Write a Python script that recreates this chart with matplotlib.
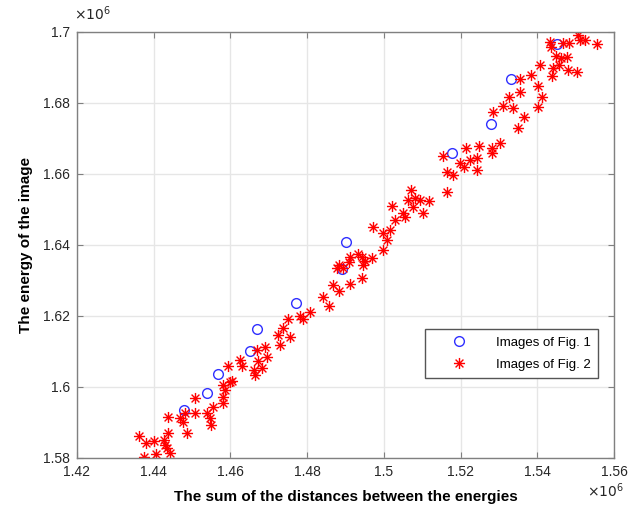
"""Energy of the image vs. sum of distances between the energies."""

import matplotlib
matplotlib.use('Agg')
import matplotlib.pyplot as plt
from matplotlib.path import Path
from matplotlib.ticker import FuncFormatter, FixedLocator

plt.rcParams['font.family'] = ['Liberation Sans', 'DejaVu Sans']

# values in units of 1e6
fig1_x = [1.4479, 1.4539, 1.4568, 1.4651, 1.4669, 1.4771, 1.4891, 1.4901,
          1.5178, 1.5280, 1.5332, 1.5452]
fig1_y = [1.5935, 1.5983, 1.6037, 1.6101, 1.6163, 1.6237, 1.6332, 1.6408,
          1.6659, 1.6741, 1.6868, 1.6966]

fig2_x = [
    1.4362, 1.4380, 1.4401, 1.4375, 1.4406, 1.4427, 1.4429, 1.4435, 1.4443,
    1.4437, 1.4437, 1.4469, 1.4476, 1.4482, 1.4508, 1.4508, 1.4487, 1.4539,
    1.4547, 1.4549, 1.4555, 1.4581, 1.4581, 1.4586, 1.4581, 1.4599,
    1.4594, 1.4604, 1.4625, 1.4630, 1.4662, 1.4664, 1.4682, 1.4672, 1.4669,
    1.4690, 1.4695, 1.4724, 1.4729, 1.4737, 1.4755, 1.4750, 1.4782, 1.4789,
    1.4808,
    1.4857, 1.4842, 1.4868, 1.4883, 1.4912, 1.4878, 1.4883, 1.4894, 1.4912,
    1.4909, 1.4933, 1.4943, 1.4946, 1.4951, 1.4943, 1.4969, 1.4998, 1.4998,
    1.5008, 1.5016, 1.4972, 1.5029, 1.5055,
    1.5021, 1.5050, 1.5063, 1.5071, 1.5076, 1.5081, 1.5094, 1.5102, 1.5118,
    1.5165, 1.5165, 1.5180, 1.5154, 1.5199, 1.5209, 1.5214, 1.5225, 1.5243,
    1.5243, 1.5248, 1.5282, 1.5282,
    1.5303, 1.5350, 1.5366, 1.5337, 1.5326, 1.5311, 1.5285, 1.5355, 1.5402,
    1.5413, 1.5402, 1.5384, 1.5355, 1.5439, 1.5407, 1.5441, 1.5457, 1.5480,
    1.5462, 1.5504, 1.5478, 1.5483, 1.5436, 1.5433, 1.5467, 1.5506, 1.5512,
    1.5525, 1.5556, 1.5449,
]
fig2_y = [
    1.5862, 1.5842, 1.5848, 1.5803, 1.5811, 1.5851, 1.5837, 1.5828, 1.5814,
    1.5870, 1.5915, 1.5913, 1.5901, 1.5927, 1.5927, 1.5969, 1.5870, 1.5927,
    1.5913, 1.5893, 1.5944, 1.5955, 1.5972, 1.5992, 1.6006, 1.6014,
    1.6059, 1.6017, 1.6076, 1.6059, 1.6048, 1.6034, 1.6054, 1.6073, 1.6104,
    1.6113, 1.6085, 1.6146, 1.6118, 1.6166, 1.6141, 1.6192, 1.6200, 1.6192,
    1.6211,
    1.6228, 1.6254, 1.6287, 1.6270, 1.6290, 1.6335, 1.6344, 1.6335, 1.6366,
    1.6352, 1.6375, 1.6366, 1.6344, 1.6355, 1.6307, 1.6363, 1.6386, 1.6434,
    1.6414, 1.6442, 1.6451, 1.6470, 1.6479,
    1.6510, 1.6490, 1.6527, 1.6555, 1.6507, 1.6532, 1.6527, 1.6490, 1.6524,
    1.6549, 1.6606, 1.6597, 1.6651, 1.6631, 1.6620, 1.6673, 1.6639, 1.6645,
    1.6611, 1.6679, 1.6673, 1.6659,
    1.6687, 1.6730, 1.6761, 1.6786, 1.6817, 1.6792, 1.6775, 1.6831, 1.6789,
    1.6817, 1.6848, 1.6879, 1.6868, 1.6876, 1.6907, 1.6899, 1.6907, 1.6893,
    1.6927, 1.6887, 1.6930, 1.6969, 1.6958, 1.6972, 1.6969, 1.6992, 1.6977,
    1.6977, 1.6966, 1.6932,
]

xticks = [1.42, 1.44, 1.46, 1.48, 1.50, 1.52, 1.54, 1.56]
yticks = [1.58, 1.60, 1.62, 1.64, 1.66, 1.68, 1.70]
SCALE = 1e6

# MATLAB-style eight-armed asterisk marker
asterisk = Path(
    [(-1, 0), (1, 0), (0, -1), (0, 1),
     (-0.707, -0.707), (0.707, 0.707), (-0.707, 0.707), (0.707, -0.707)],
    [Path.MOVETO, Path.LINETO] * 4,
)

fig = plt.figure(figsize=(6.29, 5.15), dpi=100)
ax = fig.add_axes([0.1224, 0.1107, 0.8537, 0.8272])

ax.plot([v * SCALE for v in fig1_x], [v * SCALE for v in fig1_y],
        linestyle='none', marker='o', markersize=7, markerfacecolor='none',
        markeredgecolor='#2f2fff', markeredgewidth=1, label='Images of Fig. 1')
ax.plot([v * SCALE for v in fig2_x], [v * SCALE for v in fig2_y],
        linestyle='none', marker=asterisk, markersize=8,
        markeredgecolor='r', markeredgewidth=1, label='Images of Fig. 2')

ax.set_xlim(xticks[0] * SCALE, xticks[-1] * SCALE)
ax.set_ylim(yticks[0] * SCALE, yticks[-1] * SCALE)
ax.xaxis.set_major_locator(FixedLocator([t * SCALE for t in xticks]))
ax.yaxis.set_major_locator(FixedLocator([t * SCALE for t in yticks]))
fmt = FuncFormatter(lambda v, p: f'{v / SCALE:g}')
ax.xaxis.set_major_formatter(fmt)
ax.yaxis.set_major_formatter(fmt)

ax.grid(True, color='#e6e6e6', linewidth=1)
ax.set_axisbelow(True)
for s in ax.spines.values():
    s.set_color('#808080')
    s.set_linewidth(1)
ax.tick_params(direction='in', top=True, right=True, length=4,
               color='#808080', labelsize=10, labelcolor='#262626', pad=5)

ax.set_xlabel('The sum of the distances between the energies',
              fontsize=11, fontweight='bold', labelpad=8)
ax.set_ylabel('The energy of the image', fontsize=11, fontweight='bold',
              labelpad=7)

# exponent labels
ax.text(-0.005, 1.02, r'$\times10^{6}$', transform=ax.transAxes,
        fontsize=10, color='#262626', ha='left', va='bottom')
ax.text(1.018, -0.055, r'$\times10^{6}$', transform=ax.transAxes,
        fontsize=10, color='#262626', ha='right', va='top')

leg = ax.legend(loc='lower right', bbox_to_anchor=(0.97, 0.188), fontsize=9.5,
                fancybox=False, edgecolor='#555555', framealpha=1,
                handlelength=4, borderpad=0.55, labelspacing=0.75,
                borderaxespad=0)
leg.get_frame().set_linewidth(1)

fig.savefig('out.png', dpi=100)
